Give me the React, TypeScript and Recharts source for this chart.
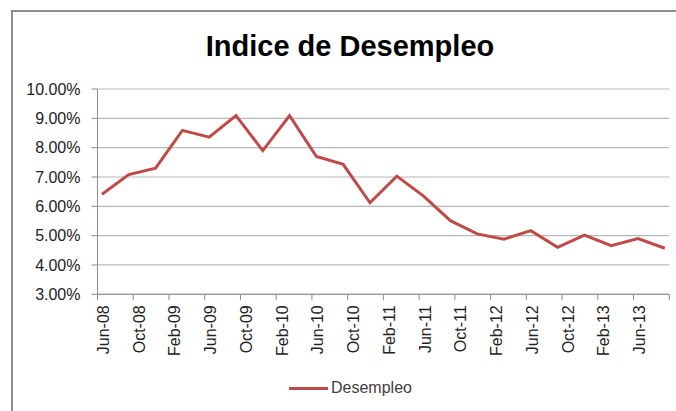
import { LineChart, Line, XAxis, YAxis, CartesianGrid, Legend } from 'recharts'

// quarterly readings, Jun-08 .. Sep-13
const periods = [
  'Jun-08', 'Sep-08', 'Dec-08', 'Mar-09', 'Jun-09', 'Sep-09', 'Dec-09', 'Mar-10',
  'Jun-10', 'Sep-10', 'Dec-10', 'Mar-11', 'Jun-11', 'Sep-11', 'Dec-11', 'Mar-12',
  'Jun-12', 'Sep-12', 'Dec-12', 'Mar-13', 'Jun-13', 'Sep-13',
]
const desempleo = [
  6.41, 7.08, 7.3, 8.59, 8.36, 9.09, 7.9, 9.09, 7.7, 7.43, 6.12,
  7.03, 6.35, 5.51, 5.06, 4.88, 5.17, 4.6, 5.02, 4.66, 4.9, 4.57,
]
const tickLabels = [
  'Jun-08', 'Oct-08', 'Feb-09', 'Jun-09', 'Oct-09', 'Feb-10', 'Jun-10', 'Oct-10',
  'Feb-11', 'Jun-11', 'Oct-11', 'Feb-12', 'Jun-12', 'Oct-12', 'Feb-13', 'Jun-13',
]
const axisEnd = 'Oct-13'
const yTicks = [3, 4, 5, 6, 7, 8, 9, 10]

const MONTHS = ['Jan', 'Feb', 'Mar', 'Apr', 'May', 'Jun', 'Jul', 'Aug', 'Sep', 'Oct', 'Nov', 'Dec']

// months elapsed since the first period
const monthIndex = (label: string) => {
  const [m, y] = label.split('-')
  const start = periods[0].split('-')
  return (Number(y) - Number(start[1])) * 12 + MONTHS.indexOf(m) - MONTHS.indexOf(start[0])
}

// excel puts each point in the middle of its month
const data = periods.map((p, i) => ({ t: monthIndex(p) + 0.5, value: desempleo[i] }))
const xTicks = [...tickLabels, axisEnd].map(monthIndex)
const labelAt: Record<number, string> = {}
tickLabels.forEach((l) => { labelAt[monthIndex(l)] = l })

const FONT = '"Liberation Sans", Arial, sans-serif'
const RED = '#be4b48'

function DateTick({ x, y, payload }: any) {
  const text = labelAt[payload.value] ?? ''
  return (
    <text
      x={x + 6}
      y={y}
      transform={`rotate(-90, ${x + 6}, ${y})`}
      textAnchor="end"
      dominantBaseline="central"
      fontSize={16}
      fontFamily={FONT}
      fill="#222"
    >
      {text}
    </text>
  )
}

function LegendBox() {
  return (
    <div style={{ display: 'flex', alignItems: 'center', fontFamily: FONT, fontSize: 16, color: '#404040' }}>
      <span style={{ display: 'inline-block', width: 39, height: 3, background: RED, marginRight: 3 }} />
      <span>Desempleo</span>
    </div>
  )
}

export default function App() {
  return (
    <div style={{ position: 'absolute', left: 0, top: 0, width: 676, height: 411, overflow: 'hidden', background: '#fff' }}>
      <style>{'body{margin:0}'}</style>
      <div
        style={{
          position: 'absolute', left: 11, top: 10, width: 720, height: 440,
          borderLeft: '2px solid #8e8e8e', borderTop: '2px solid #8e8e8e',
        }}
      />
      <div
        style={{
          position: 'absolute', left: 0, top: 29, width: 700, textAlign: 'center',
          fontFamily: FONT, fontWeight: 'bold', fontSize: 29, color: '#000', lineHeight: '34px',
        }}
      >
        Indice de Desempleo
      </div>
      <LineChart
        width={676}
        height={411}
        data={data}
        margin={{ top: 89, right: 6.7, bottom: 46.7, left: 0 }}
        style={{ position: 'absolute', left: 0, top: 0 }}
      >
        <CartesianGrid vertical={false} stroke="#b8b8b8" strokeWidth={1.2} />
        <XAxis
          dataKey="t"
          type="number"
          domain={[0, monthIndex(axisEnd)]}
          ticks={xTicks}
          interval={0}
          height={70}
          tickSize={6}
          tickMargin={5}
          stroke="#8c8c8c"
          tick={<DateTick />}
        />
        <YAxis
          type="number"
          domain={[3, 10]}
          ticks={yTicks}
          width={97.5}
          tickSize={6}
          tickMargin={11}
          stroke="#8c8c8c"
          tickFormatter={(v: number) => `${v.toFixed(2)}%`}
          tick={{ fontSize: 16, fontFamily: FONT, fill: '#222' }}
        />
        <Legend
          verticalAlign="middle"
          align="center"
          content={<LegendBox />}
          wrapperStyle={{ top: 379, left: 289, width: 200 }}
        />
        <Line
          type="linear"
          dataKey="value"
          name="Desempleo"
          stroke={RED}
          strokeWidth={3}
          dot={false}
          isAnimationActive={false}
        />
      </LineChart>
    </div>
  )
}
